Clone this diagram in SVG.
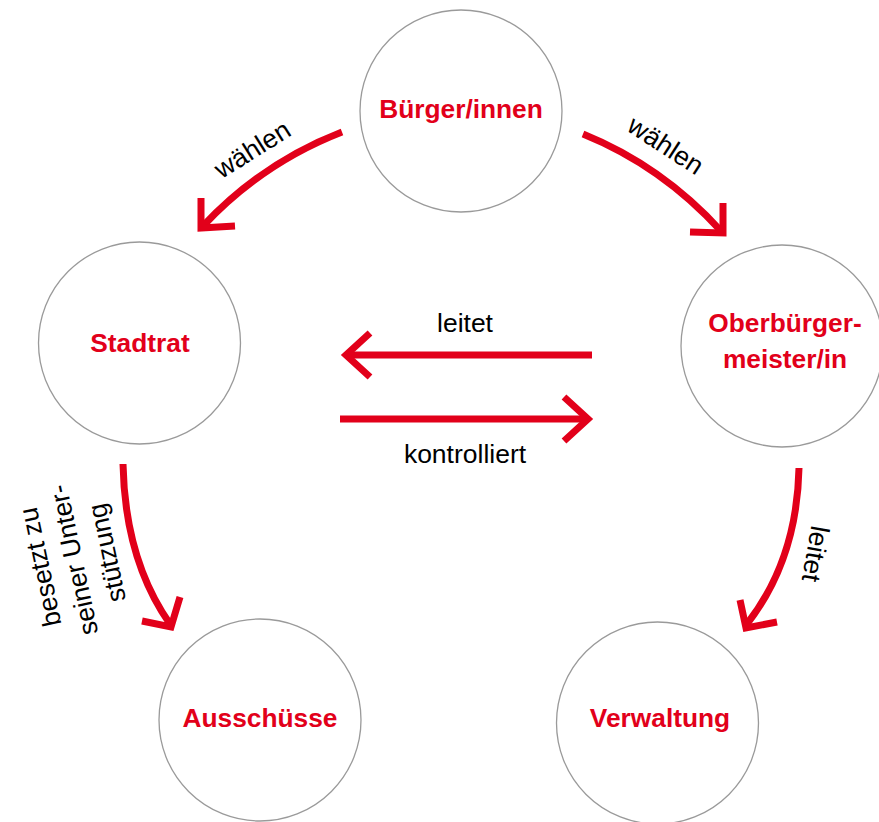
<svg xmlns="http://www.w3.org/2000/svg" width="879" height="822" viewBox="0 0 879 822">
<style>
.node circle{fill:#fff;stroke:#9a9a9a;stroke-width:1.3}
.node text{font-family:"Liberation Sans",Arial,Helvetica,sans-serif;font-weight:bold;font-size:26.3px;fill:#e2001a;text-anchor:middle}
.lbl{font-family:"Liberation Sans",Arial,Helvetica,sans-serif;font-size:26.5px;fill:#000;text-anchor:middle}
.shaft{fill:none;stroke:#e2001a;stroke-width:7;stroke-linecap:butt}
.head{fill:none;stroke:#e2001a;stroke-width:7;stroke-linejoin:miter;stroke-miterlimit:10;stroke-linecap:butt}
</style>
<rect width="879" height="822" fill="#fff"/>
<g id="buerger" class="node"><circle cx="461" cy="111" r="101"/><text x="461" y="118">Bürger/innen</text></g>
<g id="stadtrat" class="node"><circle cx="139.5" cy="343" r="101"/><text x="140" y="352">Stadtrat</text></g>
<g id="oberbuergermeister" class="node"><circle cx="782" cy="346" r="101"/><text x="785" y="332">Oberbürger-</text><text x="785" y="368">meister/in</text></g>
<g id="ausschuesse" class="node"><circle cx="260" cy="720" r="101"/><text x="260" y="727">Ausschüsse</text></g>
<g id="verwaltung" class="node"><circle cx="657.5" cy="723" r="101"/><text x="660" y="727">Verwaltung</text></g>
<g id="connectors">
<path class="shaft" d="M342,132 Q262,163 203,226"/>
<polyline class="head" points="201,198 201,228 235,226"/>
<path class="shaft" d="M583,134 Q662,166 721,231"/>
<polyline class="head" points="723,203 723,233 690,232"/>
<path class="shaft" d="M592,355 H347"/>
<polyline class="head" points="370,333 346,355 370,377"/>
<path class="shaft" d="M340,419 H587"/>
<polyline class="head" points="564,397 588,419 564,441"/>
<path class="shaft" d="M123,464 Q125,560 170,624"/>
<polyline class="head" points="180,597 171,627 142,621"/>
<path class="shaft" d="M799,468 Q797,560 747,624"/>
<polyline class="head" points="740,600 746,628 777,622"/>
<text class="lbl" transform="translate(252,149) rotate(-32)" x="0" y="9.5">wählen</text>
<text class="lbl" transform="translate(666,145) rotate(33)" x="0" y="9.5">wählen</text>
<text class="lbl" x="465" y="332">leitet</text>
<text class="lbl" x="465" y="463">kontrolliert</text>
<text class="lbl" transform="translate(816,554) rotate(100)" x="0" y="9.5">leitet</text>
<g transform="translate(73,560) rotate(-102)">
<text class="lbl" x="0" y="-24.5">besetzt zu</text>
<text class="lbl" x="0" y="9.5">seiner Unter-</text>
<text class="lbl" x="0" y="43.5">stützung</text>
</g>
</g>
</svg>
